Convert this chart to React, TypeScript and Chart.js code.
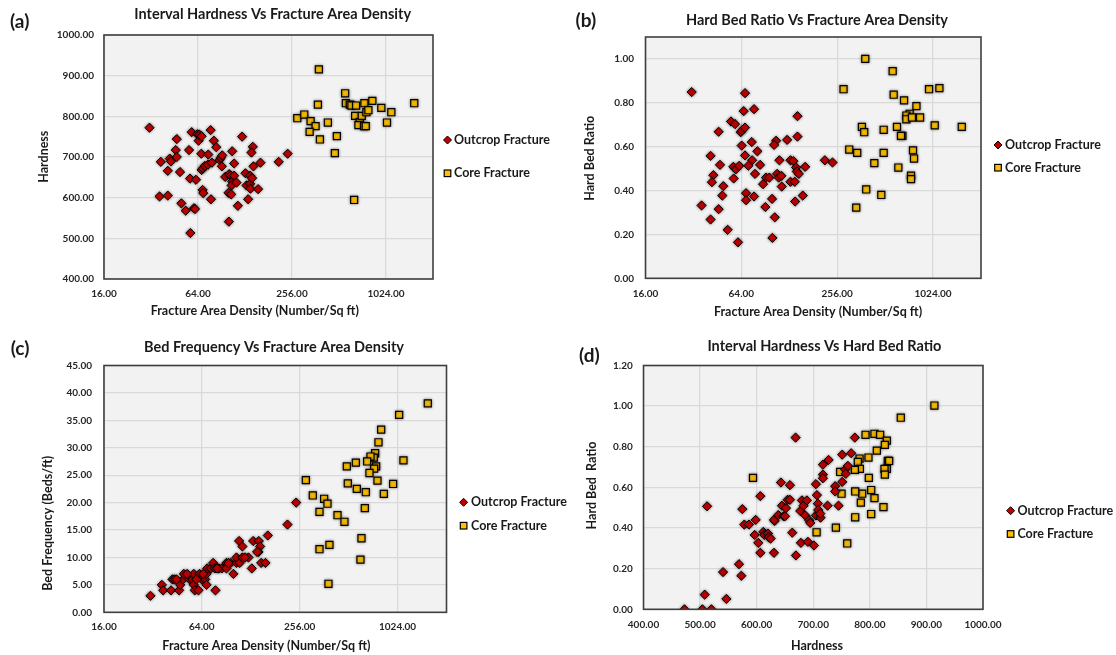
import React, { useEffect, useRef } from 'react';
import { Chart, registerables } from 'chart.js';

Chart.register(...registerables);

// ---------- DATA ----------
// Panel (a): Interval Hardness vs Fracture Area Density
const A_OUT_FAD = [31.3, 37.0, 36.3, 41.0, 41.0, 42.2, 43.0, 46.1, 46.8, 46.8, 49.1, 50.1, 53.4, 56.1, 57.2, 56.9, 58.3, 60.3, 61.2, 62.1, 63.4, 64.6, 65.3, 67.5, 67.2, 67.5, 68.8, 68.5, 69.2, 70.9, 74.1, 74.5, 77.1, 78.6, 77.5, 80.9, 83.8, 88.0, 89.7, 91.5, 91.0, 95.6, 101.4, 103.9, 106.0, 109.1, 106.0, 105.0, 109.1, 112.9, 100.9, 100.4, 104.5, 115.2, 122.7, 128.9, 130.9, 134.1, 138.1, 138.1, 138.8, 142.2, 143.6, 140.8, 145.0, 155.3, 160.8, 210.4, 240.2];
const A_OUT_HARD = [772, 688, 603, 605, 666, 696, 689, 717, 744, 700, 663, 586, 568, 717, 513, 647, 761, 574, 572, 644, 756, 740, 755, 751, 708, 668, 672, 619, 611, 678, 681, 706, 766, 686, 596, 740, 724, 693, 698, 704, 677, 651, 658, 654, 714, 684, 640, 630, 654, 637, 541, 612, 608, 580, 750, 660, 630, 596, 654, 634, 622, 648, 725, 711, 677, 621, 686, 688, 708];
const A_CORE_FAD = [380.6, 560.7, 375.1, 566.2, 600.4, 615.2, 659.0, 744.8, 837.4, 956.0, 1107.6, 1553, 276.8, 306.8, 336.8, 362.5, 332.0, 386.4, 434.5, 496.0, 481.7, 649.5, 695.6, 716.2, 767.0, 789.8, 681.8, 741.2, 759.6, 1039, 640.0];
const A_CORE_HARD = [915.5, 856.7, 828.9, 832.2, 828.9, 826.5, 826.5, 832.2, 837.9, 820.8, 810.1, 832.2, 795.4, 804.4, 788.1, 775.8, 761.9, 743.1, 784.8, 751.3, 709.6, 801.1, 785.6, 801.1, 810.1, 815.0, 778.3, 775.8, 775.8, 784.8, 594.4];

// Panel (b): Hard Bed Ratio vs Fracture Area Density
const B_OUT_FAD = [31.2, 67.5, 66.2, 76.9, 144.1, 55.1, 58.4, 46.1, 63.4, 64.6, 67.5, 144.1, 74.4, 105.8, 102.8, 124.1, 64.3, 80.7, 41.0, 67.5, 74.8, 111.0, 130.2, 135.9, 214.1, 239.2, 47.0, 57.0, 59.2, 62.1, 70.8, 83.9, 141.3, 142.7, 146.9, 161.0, 42.7, 41.8, 57.3, 78.0, 91.5, 96.0, 107.3, 109.9, 114.2, 87.6, 114.8, 130.2, 138.6, 49.3, 48.6, 68.5, 68.5, 76.9, 99.8, 155.6, 139.3, 36.0, 46.1, 90.6, 41.0, 103.8, 52.5, 61.0, 100.3];
const B_OUT_HBR = [0.849, 0.844, 0.762, 0.771, 0.739, 0.715, 0.703, 0.668, 0.666, 0.674, 0.687, 0.646, 0.621, 0.627, 0.608, 0.631, 0.605, 0.579, 0.558, 0.560, 0.538, 0.538, 0.538, 0.534, 0.538, 0.528, 0.517, 0.508, 0.497, 0.513, 0.513, 0.517, 0.505, 0.487, 0.476, 0.508, 0.470, 0.438, 0.455, 0.476, 0.459, 0.459, 0.476, 0.459, 0.467, 0.429, 0.418, 0.440, 0.440, 0.420, 0.377, 0.388, 0.356, 0.373, 0.362, 0.377, 0.350, 0.332, 0.315, 0.325, 0.268, 0.278, 0.221, 0.164, 0.184];
const B_CORE_FAD = [384.1, 570.9, 280.5, 579.3, 966.1, 1122, 672.9, 805.0, 730.1, 696.0, 696.0, 755.2, 848.4, 365.9, 378.3, 501.2, 607.7, 656.8, 643.9, 1049, 1551, 304.7, 341.9, 501.2, 766.2, 777.5, 437.9, 619.6, 744.4, 744.4, 389.4, 484.4, 337.0];
const B_CORE_HBR = [1.00, 0.944, 0.862, 0.837, 0.862, 0.867, 0.811, 0.785, 0.750, 0.742, 0.725, 0.733, 0.733, 0.690, 0.666, 0.677, 0.690, 0.649, 0.649, 0.697, 0.690, 0.587, 0.572, 0.572, 0.583, 0.546, 0.525, 0.505, 0.468, 0.452, 0.405, 0.380, 0.322];

// Panel (c): Bed Frequency vs Fracture Area Density
const C_OUT_FAD = [30.9, 36.3, 37.0, 41.4, 42.2, 43.4, 46.4, 47.1, 49.1, 49.6, 53.9, 56.1, 57.1, 57.1, 57.9, 61.0, 61.9, 63.9, 67.1, 68.4, 68.4, 69.0, 72.6, 75.1, 76.9, 77.6, 81.4, 84.9, 90.7, 90.7, 96.4, 100.1, 104.5, 104.5, 109.5, 113.7, 123.9, 108.5, 113.7, 129.9, 132.4, 143.4, 146.1, 142.7, 140.0, 148.3, 157.6, 162.9, 215.3, 243.4, 44.7, 52.0, 59.3, 65.2, 79.5, 93.3, 118.1];
const C_OUT_BF = [3, 5, 4, 4, 6, 6, 4, 5, 6, 7, 6, 6, 7, 5, 4, 4, 7, 6, 6, 7, 5, 8, 8, 9, 8, 4, 8, 8, 9, 8, 9, 7, 9, 10, 9, 10, 10, 13, 12, 8, 13, 13, 12, 11, 11, 9, 9, 14, 16, 20, 6, 7, 6, 7, 8, 9, 10];
const C_CORE_FAD = [1571, 1047, 811.6, 781.4, 745.4, 731.2, 697.6, 1113, 665.5, 566.9, 498.9, 755.9, 734.7, 687.7, 279.2, 505.9, 574.8, 770.2, 961.4, 652.9, 842.8, 308.2, 361.8, 379.3, 643.9, 338.8, 437.3, 482.6, 614.0, 390.1, 338.8, 605.3, 384.7];
const C_CORE_BF = [38.1, 36.0, 33.3, 31.0, 29.0, 28.2, 28.4, 27.7, 27.5, 27.3, 26.6, 26.6, 26.2, 25.4, 24.1, 23.5, 22.5, 24.0, 23.4, 21.9, 21.6, 21.3, 20.7, 19.8, 19.0, 18.3, 17.7, 16.5, 13.5, 12.3, 11.5, 9.6, 5.2];

// Panel (d): Hard Bed Ratio vs Interval Hardness
const D_OUT_HARD = [472.4, 504.1, 520.0, 508.2, 546.5, 540.6, 568.8, 572.9, 512.4, 574.7, 578.2, 586.5, 598.2, 606.5, 596.5, 602.9, 606.5, 611.8, 613.5, 620.0, 621.2, 624.7, 630.6, 631.8, 630.6, 638.2, 642.9, 644.7, 647.6, 650.0, 651.8, 654.7, 658.8, 658.8, 662.9, 668.8, 669.4, 678.2, 677.1, 680.0, 682.9, 685.9, 688.8, 690.6, 692.9, 694.7, 701.2, 704.7, 706.5, 708.2, 704.7, 708.8, 712.9, 712.4, 717.1, 717.1, 717.1, 727.1, 725.3, 738.8, 738.8, 744.7, 751.2, 751.2, 756.5, 757.6, 761.2, 767.1, 773.5];
const D_OUT_HBR = [0, 0, 0, 0.072, 0.051, 0.183, 0.222, 0.165, 0.507, 0.493, 0.417, 0.417, 0.440, 0.557, 0.366, 0.327, 0.278, 0.381, 0.366, 0.373, 0.355, 0.348, 0.278, 0.435, 0.440, 0.464, 0.624, 0.510, 0.458, 0.458, 0.498, 0.539, 0.539, 0.611, 0.377, 0.845, 0.265, 0.327, 0.484, 0.536, 0.510, 0.462, 0.536, 0.332, 0.438, 0.425, 0.314, 0.616, 0.562, 0.520, 0.462, 0.489, 0.451, 0.471, 0.712, 0.663, 0.645, 0.735, 0.510, 0.606, 0.580, 0.510, 0.761, 0.627, 0.688, 0.667, 0.706, 0.768, 0.845];
const D_CORE_HARD = [914.1, 854.7, 792.4, 808.2, 818.2, 830.0, 826.5, 812.4, 797.6, 781.8, 778.8, 831.8, 834.1, 782.4, 773.5, 747.6, 830.0, 825.9, 826.5, 798.2, 593.5, 802.4, 786.5, 774.1, 750.0, 808.2, 784.1, 824.1, 802.4, 774.1, 740.0, 705.9, 760.0];
const D_CORE_HBR = [1.003, 0.943, 0.859, 0.864, 0.859, 0.830, 0.809, 0.781, 0.747, 0.742, 0.725, 0.730, 0.730, 0.691, 0.686, 0.676, 0.691, 0.691, 0.663, 0.647, 0.647, 0.587, 0.569, 0.580, 0.569, 0.547, 0.525, 0.503, 0.469, 0.453, 0.402, 0.379, 0.324];

// Tick values
const FAD_TICKS = [16, 64, 256, 1024];
const HARD_TICKS = [400, 500, 600, 700, 800, 900, 1000];
const HBR_TICKS_B = [0, 0.2, 0.4, 0.6, 0.8, 1.0];
const BF_TICKS = [0, 5, 10, 15, 20, 25, 30, 35, 40, 45];
const HBR_TICKS_D = [0, 0.2, 0.4, 0.6, 0.8, 1.0, 1.2];

const SERIES_NAMES = ['Outcrop Fracture', 'Core Fracture'];

// ---------- STYLE / LAYOUT ----------
const W = 1116;
const H = 655;
const FONT = 'Lato, "Open Sans", "DejaVu Sans", sans-serif';
const TEXT = '#1a1a1a';
const TICK = '#262626';
const GRID = '#D9D9D9';
const RED = '#C00000';
const GOLD = '#FFC000';

type Panel = {
  key: string; letter: string; title: string; xTitle: string; yTitle: string;
  outX: number[]; outY: number[]; coreX: number[]; coreY: number[];
  xLog: boolean; xMin: number; xMax: number; xTicks: number[];
  yMin: number; yMax: number; yTicks: number[];
  area: { l: number; r: number; t: number; b: number };
  yTickPad: number; xTickPad: number;
  titlePos: [number, number]; letterPos: [number, number];
  yTitlePos: [number, number]; xTitlePos: [number, number];
  legend: { x: number; y1: number; y2: number; tx: number };
};

const PANELS: Panel[] = [
  {
    key: 'a', letter: '(a)', title: 'Interval Hardness Vs Fracture Area Density',
    xTitle: 'Fracture Area Density (Number/Sq ft)', yTitle: 'Hardness',
    outX: A_OUT_FAD, outY: A_OUT_HARD, coreX: A_CORE_FAD, coreY: A_CORE_HARD,
    xLog: true, xMin: 16, xMax: 2048, xTicks: FAD_TICKS,
    yMin: 400, yMax: 1000, yTicks: HARD_TICKS,
    area: { l: 104, r: 433, t: 35, b: 279 },
    yTickPad: 10, xTickPad: 9,
    titlePos: [272.7, 14.3], letterPos: [10, 21.7],
    yTitlePos: [43.6, 156.7], xTitlePos: [254.8, 310.7],
    legend: { x: 447.5, y1: 140, y2: 173.3, tx: 454 },
  },
  {
    key: 'b', letter: '(b)', title: 'Hard Bed Ratio Vs Fracture Area Density',
    xTitle: 'Fracture Area Density (Number/Sq ft)', yTitle: 'Hard Bed Ratio',
    outX: B_OUT_FAD, outY: B_OUT_HBR, coreX: B_CORE_FAD, coreY: B_CORE_HBR,
    xLog: true, xMin: 16, xMax: 2048, xTicks: FAD_TICKS,
    yMin: 0, yMax: 1.1, yTicks: HBR_TICKS_B,
    area: { l: 645.5, r: 981, t: 37, b: 278.3 },
    yTickPad: 11.5, xTickPad: 9,
    titlePos: [817, 20], letterPos: [575.6, 21],
    yTitlePos: [590, 158.3], xTitlePos: [818, 311.7],
    legend: { x: 998, y1: 145, y2: 167.7, tx: 1005 },
  },
  {
    key: 'c', letter: '(c)', title: 'Bed Frequency Vs Fracture Area Density',
    xTitle: 'Fracture Area Density (Number/Sq ft)', yTitle: 'Bed Frequency (Beds/ft)',
    outX: C_OUT_FAD, outY: C_OUT_BF, coreX: C_CORE_FAD, coreY: C_CORE_BF,
    xLog: true, xMin: 16, xMax: 2048, xTicks: FAD_TICKS,
    yMin: 0, yMax: 45, yTicks: BF_TICKS,
    area: { l: 104, r: 446.5, t: 365.5, b: 612.3 },
    yTickPad: 12, xTickPad: 8.4,
    titlePos: [274, 347.3], letterPos: [10.7, 349.3],
    yTitlePos: [48.2, 523.3], xTitlePos: [266.4, 645.7],
    legend: { x: 463.6, y1: 502.3, y2: 525.7, tx: 471 },
  },
  {
    key: 'd', letter: '(d)', title: 'Interval Hardness Vs Hard Bed Ratio',
    xTitle: 'Hardness', yTitle: 'Hard Bed  Ratio',
    outX: D_OUT_HARD, outY: D_OUT_HBR, coreX: D_CORE_HARD, coreY: D_CORE_HBR,
    xLog: false, xMin: 400, xMax: 1000, xTicks: HARD_TICKS,
    yMin: 0, yMax: 1.2, yTicks: HBR_TICKS_D,
    area: { l: 643.5, r: 983, t: 365.5, b: 609.3 },
    yTickPad: 10.7, xTickPad: 9.7,
    titlePos: [824.4, 346], letterPos: [579, 356],
    yTitlePos: [591.7, 485.5], xTitlePos: [817, 645.7],
    legend: { x: 1010.6, y1: 510.7, y2: 534, tx: 1017.4 },
  },
];

function drawDiamond(ctx: CanvasRenderingContext2D, x: number, y: number, r: number) {
  ctx.beginPath();
  ctx.moveTo(x, y - r);
  ctx.lineTo(x + r, y);
  ctx.lineTo(x, y + r);
  ctx.lineTo(x - r, y);
  ctx.closePath();
  ctx.fillStyle = RED;
  ctx.fill();
  ctx.lineWidth = 1;
  ctx.strokeStyle = '#000';
  ctx.stroke();
}

function drawSquare(ctx: CanvasRenderingContext2D, x: number, y: number, h: number) {
  ctx.fillStyle = GOLD;
  ctx.fillRect(x - h, y - h, 2 * h, 2 * h);
  ctx.lineWidth = 1.2;
  ctx.strokeStyle = '#000';
  ctx.strokeRect(x - h, y - h, 2 * h, 2 * h);
}

function makeDecor(p: Panel) {
  return {
    id: 'decor_' + p.key,
    beforeDraw(chart: any) {
      const { ctx, chartArea: a } = chart;
      ctx.save();
      ctx.fillStyle = '#F2F2F2';
      ctx.fillRect(a.left, a.top, a.right - a.left, a.bottom - a.top);
      ctx.restore();
    },
    beforeDatasetsDraw(chart: any) {
      const ctx = chart.ctx;
      ctx.save();
      ctx.shadowColor = 'rgba(0,0,0,0.45)';
      ctx.shadowBlur = 3;
    },
    afterDatasetsDraw(chart: any) {
      chart.ctx.restore();
    },
    afterDraw(chart: any) {
      const { ctx, chartArea: a } = chart;
      ctx.save();
      ctx.strokeStyle = '#3f3f3f';
      ctx.lineWidth = 1.6;
      ctx.strokeRect(a.left, a.top, a.right - a.left, a.bottom - a.top);

      ctx.fillStyle = TEXT;
      ctx.textBaseline = 'middle';

      ctx.font = `bold 14.5px ${FONT}`;
      ctx.textAlign = 'center';
      ctx.fillText(p.title, p.titlePos[0], p.titlePos[1]);

      ctx.font = `bold 19px ${FONT}`;
      ctx.textAlign = 'left';
      ctx.fillText(p.letter, p.letterPos[0], p.letterPos[1]);

      ctx.font = `bold 12.5px ${FONT}`;
      ctx.textAlign = 'center';
      ctx.fillText(p.xTitle, p.xTitlePos[0], p.xTitlePos[1]);

      ctx.save();
      ctx.translate(p.yTitlePos[0], p.yTitlePos[1]);
      ctx.rotate(-Math.PI / 2);
      ctx.fillText(p.yTitle, 0, 0);
      ctx.restore();

      // legend
      const L = p.legend;
      drawDiamond(ctx, L.x, L.y1, 4);
      drawSquare(ctx, L.x, L.y2, 3.3);
      ctx.fillStyle = TEXT;
      ctx.font = `bold 12.5px ${FONT}`;
      ctx.textAlign = 'left';
      ctx.textBaseline = 'middle';
      ctx.fillText(SERIES_NAMES[0], L.tx, L.y1);
      ctx.fillText(SERIES_NAMES[1], L.tx, L.y2);
      ctx.restore();
    },
  };
}

function buildConfig(p: Panel): any {
  const tickFont = { family: FONT, size: 10, weight: 'bold' as const };
  return {
    type: 'scatter',
    data: {
      datasets: [
        {
          label: SERIES_NAMES[0],
          data: p.outX.map((x, i) => ({ x, y: p.outY[i] })),
          pointStyle: 'rectRot',
          pointRadius: 4.6,
          backgroundColor: RED,
          borderColor: '#000',
          borderWidth: 1,
        },
        {
          label: SERIES_NAMES[1],
          data: p.coreX.map((x, i) => ({ x, y: p.coreY[i] })),
          pointStyle: 'rect',
          pointRadius: 5,
          backgroundColor: GOLD,
          borderColor: '#000',
          borderWidth: 1.2,
        },
      ],
    },
    options: {
      responsive: false,
      animation: false,
      devicePixelRatio: 1,
      events: [],
      layout: { padding: { left: 0, top: p.area.t, right: W - p.area.r, bottom: 0 } },
      plugins: {
        legend: { display: false },
        title: { display: false },
        tooltip: { enabled: false },
      },
      scales: {
        x: {
          type: p.xLog ? 'logarithmic' : 'linear',
          position: 'bottom',
          min: p.xMin,
          max: p.xMax,
          afterBuildTicks: (s: any) => { s.ticks = p.xTicks.map((v) => ({ value: v })); },
          afterFit: (s: any) => { s.height = H - p.area.b; },
          grid: { color: GRID, lineWidth: 1.3, drawTicks: false },
          border: { display: false },
          ticks: {
            padding: p.xTickPad, autoSkip: false, maxRotation: 0, minRotation: 0,
            color: TICK, font: tickFont,
            callback: (v: any) => Number(v).toFixed(2),
          },
        },
        y: {
          type: 'linear',
          position: 'left',
          min: p.yMin,
          max: p.yMax,
          afterBuildTicks: (s: any) => { s.ticks = p.yTicks.map((v) => ({ value: v })); },
          afterFit: (s: any) => { s.width = p.area.l; },
          grid: { color: GRID, lineWidth: 1.3, drawTicks: false },
          border: { display: false },
          ticks: {
            padding: p.yTickPad, autoSkip: false,
            color: TICK, font: tickFont,
            callback: (v: any) => Number(v).toFixed(2),
          },
        },
      },
    },
    plugins: [makeDecor(p)],
  };
}

function PanelChart({ p }: { p: Panel }) {
  const ref = useRef<HTMLCanvasElement | null>(null);
  useEffect(() => {
    if (!ref.current) return;
    const chart = new Chart(ref.current, buildConfig(p));
    return () => chart.destroy();
  }, [p]);
  return (
    <canvas
      ref={ref}
      width={W}
      height={H}
      style={{ position: 'absolute', left: 0, top: 0, width: W, height: H, display: 'block' }}
    />
  );
}

export default function App() {
  return (
    <div style={{ position: 'absolute', left: 0, top: 0, width: W, height: H, background: '#ffffff' }}>
      {PANELS.map((p) => (
        <PanelChart key={p.key} p={p} />
      ))}
    </div>
  );
}
